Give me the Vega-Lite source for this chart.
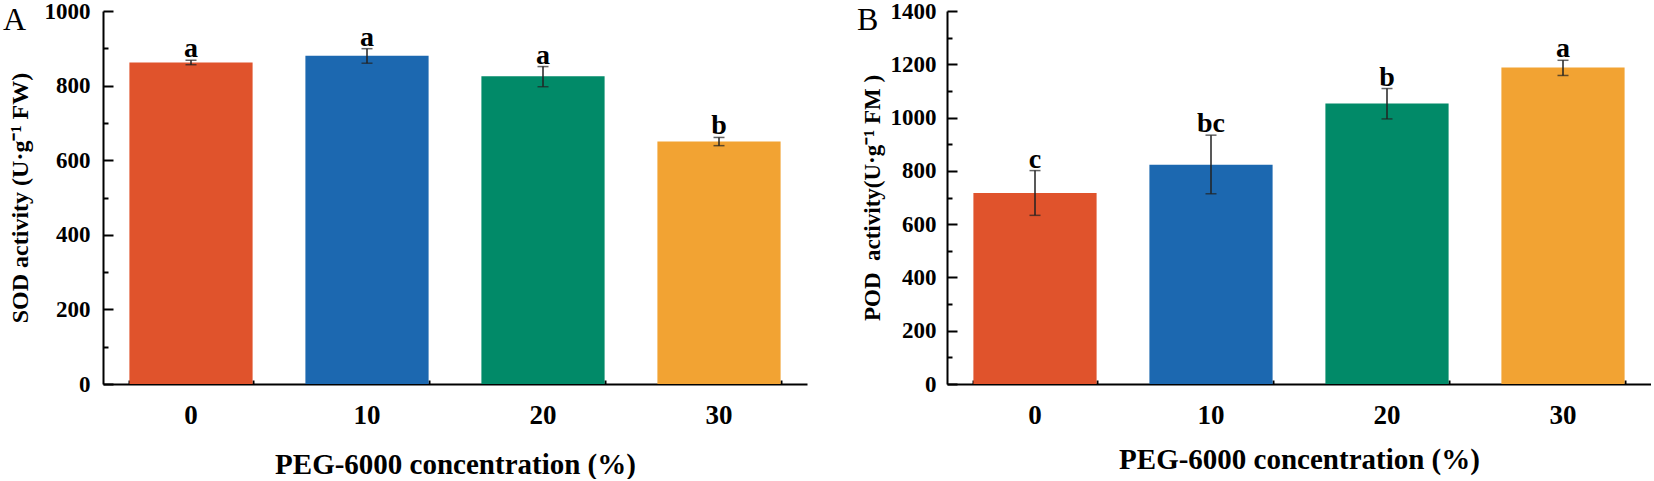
{
  "$schema": "https://vega.github.io/schema/vega-lite/v6.json",
  "padding": {"left": 3, "top": 0, "right": 0, "bottom": 0},
  "background": "white",
  "datasets": {
    "sod": [
      {"conc": 0, "mean": 862, "lo": 856, "hi": 868, "sig": "a"},
      {"conc": 10, "mean": 880, "lo": 860, "hi": 899, "sig": "a"},
      {"conc": 20, "mean": 825, "lo": 797, "hi": 851, "sig": "a"},
      {"conc": 30, "mean": 650, "lo": 639, "hi": 661, "sig": "b"}
    ],
    "pod": [
      {"conc": 0, "mean": 717, "lo": 633, "hi": 801, "sig": "c"},
      {"conc": 10, "mean": 823, "lo": 714, "hi": 934, "sig": "bc"},
      {"conc": 20, "mean": 1053, "lo": 995, "hi": 1109, "sig": "b"},
      {"conc": 30, "mean": 1188, "lo": 1158, "hi": 1215, "sig": "a"}
    ]
  },
  "spacing": 50,
  "hconcat": [
    {
      "data": {"name": "sod"},
      "width": 704,
      "height": 373,
      "title": {"text": "A", "anchor": "start", "frame": "bounds", "offset": -37, "dx": -5, "font": "Liberation Serif", "fontSize": 32, "fontWeight": "normal", "color": "black"},
      "layer": [
        {
          "mark": {"type": "bar"},
          "encoding": {
            "x": {"field": "conc", "type": "ordinal",
              "scale": {"paddingInner": 0.3, "paddingOuter": 0.15},
              "axis": {"title": "PEG-6000 concentration (%)", "orient": "bottom", "labelAngle": 0, "tickSize": -10, "labelPadding": 28, "labelFontSize": 27, "titleFontSize": 29, "titlePadding": 22}},
            "y": {"field": "mean", "type": "quantitative",
              "scale": {"domain": [0, 1000], "nice": false},
              "axis": {"title": "SOD activity (U·g⁻¹ FW)", "orient": "left", "values": [0, 200, 400, 600, 800, 1000], "format": "d", "tickSize": -10, "labelPadding": 23, "labelFontSize": 23, "titleFontSize": 24, "titlePadding": 12}},
            "color": {"field": "conc", "type": "ordinal",
              "scale": {"domain": [0, 10, 20, 30], "range": ["#E0532C", "#1C68B0", "#018A68", "#F2A333"]},
              "legend": null}
          }
        },
        {
          "mark": {"type": "rule", "color": "#222222", "strokeWidth": 1.5},
          "encoding": {
            "x": {"field": "conc", "type": "ordinal",
              "axis": {"title": null, "orient": "bottom", "tickBand": "extent", "labels": false, "domain": false, "tickSize": -4}},
            "y": {"field": "lo", "type": "quantitative",
              "axis": {"title": null, "orient": "left", "values": [100, 300, 500, 700, 900], "labels": false, "domain": false, "tickSize": -5}},
            "y2": {"field": "hi"}
          }
        },
        {
          "mark": {"type": "tick", "color": "#222222", "size": 11, "thickness": 1.5},
          "encoding": {
            "x": {"field": "conc", "type": "ordinal", "axis": null},
            "y": {"field": "lo", "type": "quantitative", "axis": null}
          }
        },
        {
          "mark": {"type": "tick", "color": "#222222", "size": 11, "thickness": 1.5},
          "encoding": {
            "x": {"field": "conc", "type": "ordinal", "axis": null},
            "y": {"field": "hi", "type": "quantitative", "axis": null}
          }
        },
        {
          "mark": {"type": "text", "font": "Liberation Serif", "fontWeight": "bold", "fontSize": 28, "baseline": "alphabetic", "dy": -3, "color": "black"},
          "encoding": {
            "x": {"field": "conc", "type": "ordinal", "axis": null},
            "y": {"field": "hi", "type": "quantitative", "axis": null},
            "text": {"field": "sig"}
          }
        }
      ],
      "resolve": {"axis": {"x": "independent", "y": "independent"}}
    },
    {
      "data": {"name": "pod"},
      "width": 704,
      "height": 373,
      "title": {"text": "B", "anchor": "start", "frame": "bounds", "offset": -37, "dx": -4, "font": "Liberation Serif", "fontSize": 32, "fontWeight": "normal", "color": "black"},
      "layer": [
        {
          "mark": {"type": "bar"},
          "encoding": {
            "x": {"field": "conc", "type": "ordinal",
              "scale": {"paddingInner": 0.3, "paddingOuter": 0.15},
              "axis": {"title": "PEG-6000 concentration (%)", "orient": "bottom", "labelAngle": 0, "tickSize": -10, "labelPadding": 28, "labelFontSize": 27, "titleFontSize": 29, "titlePadding": 17}},
            "y": {"field": "mean", "type": "quantitative",
              "scale": {"domain": [0, 1400], "nice": false},
              "axis": {"title": "POD\u00a0 activity(U·g⁻¹ FM\u00a0)", "orient": "left", "values": [0, 200, 400, 600, 800, 1000, 1200, 1400], "format": "d", "tickSize": -10, "labelPadding": 21, "labelFontSize": 23, "titleFontSize": 23, "titlePadding": 6}},
            "color": {"field": "conc", "type": "ordinal",
              "scale": {"domain": [0, 10, 20, 30], "range": ["#E0532C", "#1C68B0", "#018A68", "#F2A333"]},
              "legend": null}
          }
        },
        {
          "mark": {"type": "rule", "color": "#222222", "strokeWidth": 1.5},
          "encoding": {
            "x": {"field": "conc", "type": "ordinal",
              "axis": {"title": null, "orient": "bottom", "tickBand": "extent", "labels": false, "domain": false, "tickSize": -4}},
            "y": {"field": "lo", "type": "quantitative",
              "axis": {"title": null, "orient": "left", "values": [100, 300, 500, 700, 900, 1100, 1300], "labels": false, "domain": false, "tickSize": -5}},
            "y2": {"field": "hi"}
          }
        },
        {
          "mark": {"type": "tick", "color": "#222222", "size": 11, "thickness": 1.5},
          "encoding": {
            "x": {"field": "conc", "type": "ordinal", "axis": null},
            "y": {"field": "lo", "type": "quantitative", "axis": null}
          }
        },
        {
          "mark": {"type": "tick", "color": "#222222", "size": 11, "thickness": 1.5},
          "encoding": {
            "x": {"field": "conc", "type": "ordinal", "axis": null},
            "y": {"field": "hi", "type": "quantitative", "axis": null}
          }
        },
        {
          "mark": {"type": "text", "font": "Liberation Serif", "fontWeight": "bold", "fontSize": 28, "baseline": "alphabetic", "dy": -3, "color": "black"},
          "encoding": {
            "x": {"field": "conc", "type": "ordinal", "axis": null},
            "y": {"field": "hi", "type": "quantitative", "axis": null},
            "text": {"field": "sig"}
          }
        }
      ],
      "resolve": {"axis": {"x": "independent", "y": "independent"}}
    }
  ],
  "config": {
    "view": {"stroke": null},
    "font": "Liberation Serif",
    "axis": {
      "labelFont": "Liberation Serif",
      "labelFontWeight": "bold",
      "labelColor": "black",
      "titleFont": "Liberation Serif",
      "titleFontWeight": "bold",
      "titleColor": "black",
      "domainColor": "black",
      "domainWidth": 2,
      "tickColor": "black",
      "tickWidth": 2,
      "grid": false
    }
  }
}
